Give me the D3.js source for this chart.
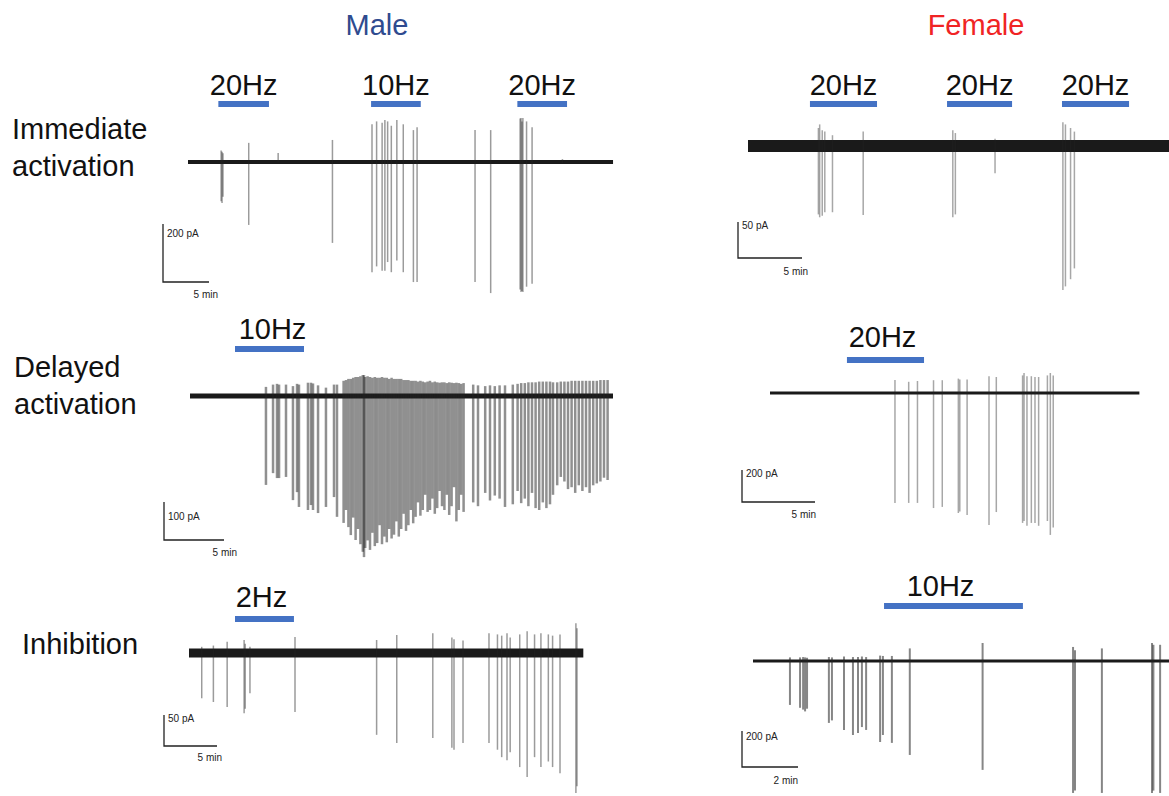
<!DOCTYPE html>
<html>
<head>
<meta charset="utf-8">
<script src="https://cdn.jsdelivr.net/npm/d3@7"></script>
<style>
body { margin: 0; background: #fff; }
svg { display: block; }
text { font-family: "Liberation Sans", Arial, sans-serif; }
</style>
</head>
<body>
<div id="chart"></div>
<script>
// each spike: [time (min), downward current (pA), upward overshoot (pA)]
var maleImmSpikes = [
  [3.6, 135, 40], [3.7, 141, 35], [3.8, 120, 30], [6.6, 217, 66], [9.8, 0, 31], [15.7, 279, 76],
  [20.0, 380, 130], [20.5, 360, 140], [21.1, 375, 135], [21.4, 375, 145], [21.7, 345, 140],
  [22.1, 380, 125], [22.7, 340, 145], [23.4, 380, 130], [24.5, 414, 110], [24.9, 414, 120],
  [31.2, 414, 110], [32.9, 452, 110],
  [36.1, 440, 150], [36.2, 448, 152], [36.3, 445, 140], [36.4, 448, 152], [36.8, 430, 140], [37.4, 420, 120],
  [40.7, 5, 10]
];
var maleImmStims = [[3.3, 8.8], [19.9, 25.3], [35.8, 41.2]];
var maleImmStimLabels = ["20Hz", "10Hz", "20Hz"];

var femaleImmSpikes = [
  [5.5, 95, 25], [5.6, 99, 30], [5.8, 97, 22], [6.0, 92, 20], [6.6, 92, 15], [9.0, 96, 20],
  [16.0, 99, 22], [16.2, 95, 18], [19.3, 38, 10],
  [24.6, 200, 33], [24.8, 195, 30], [25.2, 185, 25], [25.5, 170, 20]
];
var femaleImmStims = [[4.84, 10.08], [15.55, 20.63], [24.53, 29.77]];
var femaleImmStimLabels = ["20Hz", "20Hz", "20Hz"];

var maleDelSpikes = [
  [6.33, 234, 24], [6.92, 203, 30], [7.25, 216, 32], [7.42, 216, 30], [8.0, 213, 30], [8.58, 274, 26],
  [8.92, 253, 32], [9.08, 292, 30], [9.83, 300, 35], [10.08, 287, 35], [10.25, 300, 33], [10.67, 308, 28],
  [11.33, 292, 22], [12.0, 266, 30], [12.25, 318, 30],
  [12.8, 334, 40], [13.0, 300, 42], [13.2, 345, 45], [13.4, 366, 45], [13.6, 320, 48], [13.8, 379, 50],
  [14.0, 350, 50], [14.2, 390, 52], [14.4, 410, 55], [14.5, 424, 55], [14.6, 400, 50], [14.8, 380, 52],
  [15.0, 405, 50], [15.2, 360, 48], [15.4, 395, 50], [15.6, 387, 48], [15.8, 340, 48], [16.0, 390, 50],
  [16.2, 370, 48], [16.4, 385, 48], [16.6, 350, 45], [16.8, 375, 48], [17.0, 365, 45], [17.2, 330, 45],
  [17.4, 370, 45], [17.6, 350, 45], [17.8, 310, 42], [18.0, 355, 42], [18.2, 340, 42], [18.4, 300, 40],
  [18.6, 335, 40], [18.8, 318, 40], [19.0, 280, 38], [19.2, 315, 40], [19.4, 300, 38], [19.6, 260, 36],
  [19.8, 305, 38], [20.0, 300, 40], [20.2, 270, 36], [20.4, 310, 38], [20.6, 295, 36], [20.8, 250, 35],
  [21.0, 290, 36], [21.2, 300, 36], [21.4, 260, 34], [21.6, 313, 36], [21.8, 290, 35], [22.0, 240, 34],
  [22.2, 330, 35], [22.4, 300, 34], [22.6, 260, 32], [22.8, 305, 34],
  [23.6, 280, 30], [24.0, 290, 28], [24.6, 255, 26], [25.0, 275, 28], [25.4, 262, 26], [25.8, 270, 28],
  [26.25, 292, 28], [26.9, 285, 30],
  [27.3, 250, 32], [27.6, 282, 34], [27.9, 270, 34], [28.2, 290, 36], [28.5, 255, 36], [28.8, 295, 36],
  [29.1, 300, 38], [29.4, 280, 38], [29.7, 295, 38], [30.0, 285, 38], [30.25, 260, 36], [30.6, 235, 36],
  [30.9, 213, 38], [31.2, 225, 38], [31.5, 245, 38], [31.8, 240, 40], [32.1, 255, 40], [32.4, 235, 40],
  [32.7, 250, 40], [33.0, 240, 40], [33.3, 255, 40], [33.6, 235, 40], [33.9, 230, 40], [34.2, 225, 42],
  [34.5, 215, 42], [34.8, 221, 42]
];
var maleDelStims = [[3.75, 9.5]];
var maleDelStimLabels = ["10Hz"];

var femaleDelSpikes = [
  [8.56, 687, 81], [9.5, 687, 70], [10.1, 687, 75], [11.2, 719, 80], [11.8, 712, 80], [12.9, 750, 90],
  [13.0, 740, 85], [13.5, 762, 85], [15.0, 825, 105], [15.5, 744, 100],
  [17.3, 812, 110], [17.4, 800, 125], [17.6, 830, 105], [17.9, 812, 105], [18.15, 812, 100],
  [18.4, 830, 100], [19.0, 800, 110], [19.2, 887, 125], [19.4, 840, 110]
];
var femaleDelStims = [[5.27, 10.55]];
var femaleDelStimLabels = ["20Hz"];

var maleInhSpikes = [
  [1.2, 73, 10], [2.3, 79, 12], [3.6, 87, 18], [5.2, 97, 21], [5.3, 90, 15], [5.75, 65, 10],
  [10.0, 95, 26], [17.7, 132, 21], [19.6, 145, 29], [23.0, 137, 32], [24.8, 153, 25], [25.0, 156, 22],
  [25.85, 145, 20], [28.3, 145, 32], [29.1, 156, 30], [29.5, 168, 28], [30.0, 173, 32], [30.3, 160, 25],
  [31.2, 184, 30], [31.9, 200, 35], [32.6, 168, 30], [33.2, 184, 32], [33.9, 175, 30], [34.3, 184, 28],
  [35.0, 194, 30], [36.5, 226, 48], [36.6, 215, 40]
];
var maleInhStims = [[4.34, 9.9]];
var maleInhStimLabels = ["2Hz"];

var femaleInhSpikes = [
  [1.32, 244, 20], [1.68, 260, 20], [1.79, 270, 22], [1.86, 280, 20], [1.93, 265, 18], [2.71, 344, 22],
  [2.82, 330, 20], [3.25, 383, 25], [3.57, 411, 22], [3.75, 400, 22], [3.89, 367, 25], [4.04, 383, 22],
  [4.54, 450, 30], [4.64, 411, 28], [4.96, 455, 28], [5.6, 522, 70], [8.2, 605, 100],
  [11.43, 733, 78], [11.5, 720, 60], [12.46, 733, 70], [14.25, 733, 100], [14.3, 720, 90], [14.54, 733, 90]
];
var femaleInhStims = [[4.68, 9.64]];
var femaleInhStimLabels = ["10Hz"];

var rowLabels = [["Immediate", "activation"], ["Delayed", "activation"], ["Inhibition"]];
var colTitles = ["Male", "Female"];

// layout of each trace on the page
var panels = [
  { spikes: maleImmSpikes, stims: maleImmStims, labels: maleImmStimLabels, dur: 46.2,
    x0: 188, y0: 162, pxMin: 9.2, pxPA: 0.29, base: 4, sw: 1.5, op: 0.45,
    stimY: 104, labelY: 95, labelDx: 0,
    sbX: 163, sbY: 282, sbPA: 200, sbMin: 5, paText: "200 pA", minText: "5 min", paY: 237, minX: 218, minY: 298 },
  { spikes: femaleImmSpikes, stims: femaleImmStims, labels: femaleImmStimLabels, dur: 33.6,
    x0: 748, y0: 146, pxMin: 12.8, pxPA: 0.72, base: 12, sw: 1.5, op: 0.4,
    stimY: 104, labelY: 95, labelDx: 0,
    sbX: 738, sbY: 258, sbPA: 50, sbMin: 5, paText: "50 pA", minText: "5 min", paY: 229, minX: 808, minY: 275 },
  { spikes: maleDelSpikes, stims: maleDelStims, labels: maleDelStimLabels, dur: 35.25,
    x0: 190, y0: 396, pxMin: 12, pxPA: 0.38, base: 5, sw: 2.5, op: 0.5,
    stimY: 349, labelY: 339, labelDx: 3,
    sbX: 164, sbY: 540, sbPA: 100, sbMin: 5, paText: "100 pA", minText: "5 min", paY: 520, minX: 237, minY: 556 },
  { spikes: femaleDelSpikes, stims: femaleDelStims, labels: femaleDelStimLabels, dur: 25.3,
    x0: 770, y0: 393, pxMin: 14.6, pxPA: 0.16, base: 3, sw: 1.5, op: 0.4,
    stimY: 360, labelY: 347, labelDx: -3,
    sbX: 742, sbY: 502, sbPA: 200, sbMin: 5, paText: "200 pA", minText: "5 min", paY: 477, minX: 816, minY: 518 },
  { spikes: maleInhSpikes, stims: maleInhStims, labels: maleInhStimLabels, dur: 37.2,
    x0: 189, y0: 653, pxMin: 10.6, pxPA: 0.62, base: 9, sw: 1.5, op: 0.45,
    stimY: 619, labelY: 607, labelDx: -3,
    sbX: 164, sbY: 746, sbPA: 50, sbMin: 5, paText: "50 pA", minText: "5 min", paY: 722, minX: 222, minY: 761 },
  { spikes: femaleInhSpikes, stims: femaleInhStims, labels: femaleInhStimLabels, dur: 15.2,
    x0: 753, y0: 661, pxMin: 28, pxPA: 0.18, base: 3, sw: 2, op: 0.55,
    stimY: 606, labelY: 596, labelDx: -13,
    sbX: 742, sbY: 767, sbPA: 200, sbMin: 2, paText: "200 pA", minText: "2 min", paY: 740, minX: 798, minY: 784 }
];

var width = 1169, height = 796;

var svg = d3.select("#chart").append("svg")
  .attr("width", width)
  .attr("height", height)
  .style("background", "#fff");

// column titles
svg.selectAll(".col-title")
  .data(colTitles)
  .enter().append("text")
  .attr("class", "col-title")
  .attr("x", function(d, i) { return i == 0 ? 377 : 976; })
  .attr("y", 35)
  .attr("text-anchor", "middle")
  .style("font-size", "29px")
  .style("fill", function(d, i) { return i == 0 ? "#2f4b8f" : "#f02424"; })
  .text(function(d) { return d; });

// row labels
var rowPos = [[12, 139], [14, 377], [22, 654]];
rowLabels.forEach(function(lines, i) {
  var t = svg.append("text")
    .attr("x", rowPos[i][0])
    .attr("y", rowPos[i][1])
    .style("font-size", "29px")
    .style("fill", "#111");
  lines.forEach(function(line, j) {
    t.append("tspan")
      .attr("x", rowPos[i][0])
      .attr("dy", j == 0 ? 0 : 37)
      .text(line);
  });
});

panels.forEach(function(p) {
  var x = d3.scaleLinear().domain([0, p.dur]).range([p.x0, p.x0 + p.dur * p.pxMin]);
  var y = d3.scaleLinear().domain([0, 1000]).range([p.y0, p.y0 - 1000 * p.pxPA]);
  var g = svg.append("g");

  // stimulation bars
  g.selectAll(".stim")
    .data(p.stims)
    .enter().append("rect")
    .attr("x", function(d) { return x(d[0]); })
    .attr("y", p.stimY - 3)
    .attr("width", function(d) { return x(d[1]) - x(d[0]); })
    .attr("height", 6)
    .style("fill", "#4472c4");

  g.selectAll(".stim-label")
    .data(p.stims)
    .enter().append("text")
    .attr("x", function(d) { return (x(d[0]) + x(d[1])) / 2 + p.labelDx; })
    .attr("y", p.labelY)
    .attr("text-anchor", "middle")
    .style("font-size", "29px")
    .style("fill", "#111")
    .text(function(d, i) { return p.labels[i]; });

  // baseline trace
  g.append("line")
    .attr("x1", x(0)).attr("x2", x(p.dur))
    .attr("y1", y(0)).attr("y2", y(0))
    .style("stroke", "#1a1a1a")
    .style("stroke-width", p.base);

  // spikes
  g.selectAll(".spike")
    .data(p.spikes)
    .enter().append("line")
    .attr("x1", function(d) { return x(d[0]); })
    .attr("x2", function(d) { return x(d[0]); })
    .attr("y1", function(d) { return y(d[2]); })
    .attr("y2", function(d) { return y(-d[1]); })
    .style("stroke", "#222")
    .style("stroke-opacity", p.op)
    .style("stroke-width", p.sw);

  // scale bar
  var vLen = y(0) - y(p.sbPA);
  var hLen = x(p.sbMin) - x(0);
  g.append("path")
    .attr("d", "M" + p.sbX + "," + (p.sbY - vLen) + "V" + p.sbY + "H" + (p.sbX + hLen))
    .style("fill", "none")
    .style("stroke", "#222")
    .style("stroke-width", 1.3);
  g.append("text")
    .attr("x", p.sbX + 4)
    .attr("y", p.paY)
    .style("font-size", "10px")
    .style("fill", "#222")
    .text(p.paText);
  g.append("text")
    .attr("x", p.minX)
    .attr("y", p.minY)
    .attr("text-anchor", "end")
    .style("font-size", "10px")
    .style("fill", "#222")
    .text(p.minText);
});
</script>
</body>
</html>
